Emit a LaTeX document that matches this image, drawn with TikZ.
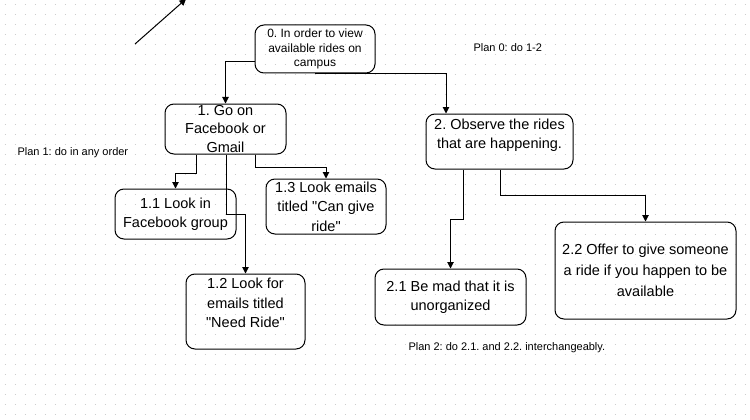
\documentclass[tikz,border=0pt]{standalone}
\usepackage{fontspec}
\setmainfont{Liberation Sans}
\usetikzlibrary{arrows.meta}
\frenchspacing
\begin{document}
\begin{tikzpicture}[x=1pt,y=-1pt,line width=1pt,
    box/.style={draw,rounded corners=9pt,inner sep=0pt,align=center,font=\fontsize{14.5}{19.5}\selectfont},
    plan/.style={inner sep=0pt,anchor=west,font=\fontsize{11}{13}\selectfont},
    >={Triangle[length=6.5pt,width=6.5pt]}]
    \useasboundingbox (0,0) rectangle (750,420);
    \clip (0,0) rectangle (750,420);
    \foreach \y in {4.5,14.5,...,414.5}
        \draw [black!20,dash pattern=on 1pt off 9pt] (4.5,\y) -- (750,\y);
    \node [box,minimum width=120pt,minimum height=48pt,font=\fontsize{12}{14.5}\selectfont] (b0) at (315,49) {0. In order to view\\available rides on\\campus};
    \node [box,minimum width=121pt,minimum height=50pt,font=\fontsize{14.5}{18.5}\selectfont] (b1) at (225.5,129) {1. Go on\\Facebook or\\Gmail};
    \node [box,minimum width=147pt,minimum height=55pt] (b2) at (499.5,141.5) {2. Observe the rides\\that are happening.\\[-4pt]\mbox{}};
    \node [box,minimum width=121pt,minimum height=50pt] (b11) at (175.5,214) {1.1 Look in\\Facebook group};
    \node [box,minimum width=119pt,minimum height=75pt] (b12) at (245.5,311.5) {1.2 Look for\\emails titled\\\textquotedbl Need Ride\textquotedbl\\[-2pt]\mbox{}};
    \node [box,minimum width=120pt,minimum height=55pt] (b13) at (326,206.5) {1.3 Look emails\\titled \textquotedbl Can give\\ride\textquotedbl};
    \node [box,minimum width=151pt,minimum height=56pt] (b21) at (450.5,297) {2.1 Be mad that it is\\unorganized};
    \node [box,minimum width=181pt,minimum height=97pt,font=\fontsize{14.5}{21}\selectfont] (b22) at (645.5,270.5) {2.2 Offer to give someone\\a ride if you happen to be\\available};
    \node [plan] (p0) at (473,48) {Plan 0: do 1-2};
    \node [plan] (p1) at (17,153) {Plan 1: do in any order};
    \node [plan] (p2) at (408,348) {Plan 2: do 2.1. and 2.2. interchangeably.};
    \coordinate (s0) at (135,44);
    \coordinate (s1) at (186,-1);
    \draw [->] (s0) -- (s1);
    \draw [->] ([yshift=-13pt]b0.west) -| (b1.north);
    \draw [->] (b0.south) -| ([xshift=-53.5pt]b2.north);
    \draw [->] ([xshift=-29.5pt]b1.south) -- ++(0,19) -| (b11.north);
    \draw [->] ([xshift=0.5pt]b1.south) -- ++(0,60) -| (b12.north);
    \draw [->] ([xshift=29.5pt]b1.south) -- ++(0,13) -| (b13.north);
    \draw [->] ([xshift=-36.5pt]b2.south) -- ++(0,50) -| (b21.north);
    \draw [->] ([xshift=0.5pt]b2.south) -- ++(0,26) -| (b22.north);
\end{tikzpicture}
\end{document}
